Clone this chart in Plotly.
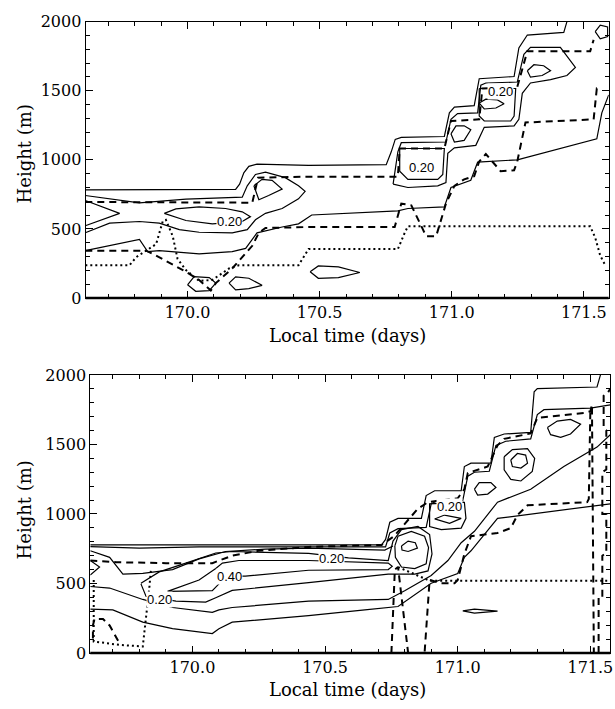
import plotly.graph_objects as go

# ---------------- top panel : solid contours (time in days, height in m) ----------------
top_outer_t = [169.613, 170.182, 170.197, 170.213, 170.232, 170.263, 170.458, 170.752, 170.771, 170.786, 170.809, 170.972, 170.991, 171.010, 171.085, 171.104, 171.236, 171.254, 171.286, 171.424, 171.436]
top_outer_h = [782, 786, 824, 906, 953, 969, 960, 965, 1058, 1148, 1162, 1169, 1340, 1382, 1392, 1587, 1603, 1810, 1903, 1922, 2000]

top_tongue_t = [169.613, 169.818, 169.994, 170.207, 170.226, 170.257, 170.295, 170.370, 170.420, 170.445, 170.420, 170.358, 170.295, 170.257, 170.226, 170.169, 170.044, 169.969, 169.893, 169.818, 169.705, 169.613]
top_tongue_h = [742, 688, 716, 730, 812, 894, 911, 871, 812, 772, 718, 648, 613, 566, 495, 472, 476, 495, 542, 554, 542, 472]

top_core_t = [169.912, 169.956, 170.044, 170.144, 170.207, 170.238, 170.207, 170.094, 169.994, 169.912]
top_core_h = [613, 645, 660, 648, 624, 589, 554, 537, 561, 613]

top_wedge_t = [169.613, 169.743, 169.613]
top_wedge_h = [706, 613, 523]

top_lower_t = [169.613, 169.705, 169.818, 169.849, 169.893, 170.044, 170.169, 170.220, 170.263, 170.358, 170.420, 170.470, 170.796, 170.834, 170.972, 170.997, 171.072, 171.098, 171.248, 171.549, 171.568, 171.594]
top_lower_h = [343, 378, 425, 336, 343, 319, 336, 359, 472, 514, 537, 601, 631, 648, 660, 800, 852, 983, 1000, 1152, 1340, 1470]

top_stair_t = [170.778, 170.796, 170.809, 170.978, 170.997, 171.022, 171.098, 171.110, 171.129, 171.248, 171.273, 171.298, 171.411, 171.468, 171.436, 171.374, 171.298, 171.267, 171.254, 171.236, 171.123, 171.091, 171.010, 170.985, 170.978, 170.947, 170.834, 170.778]
top_stair_h = [824, 1058, 1124, 1129, 1293, 1335, 1340, 1540, 1556, 1563, 1763, 1814, 1814, 1669, 1610, 1580, 1556, 1481, 1293, 1246, 1235, 1105, 1087, 1047, 836, 812, 800, 824]

top_box1_t = [170.803, 170.803, 170.834, 170.947, 170.966, 170.972, 170.803]
top_box1_h = [1082, 918, 859, 859, 894, 1082, 1082]
top_box2_t = [171.104, 171.104, 171.123, 171.223, 171.236, 171.242, 171.104]
top_box2_h = [1516, 1317, 1281, 1281, 1317, 1516, 1516]

top_loop1_t = [170.000, 170.025, 170.082, 170.107, 170.082, 170.031, 170.000]
top_loop1_h = [96, 155, 148, 108, 54, 49, 96]
top_loop2_t = [170.157, 170.182, 170.232, 170.282, 170.232, 170.182, 170.157]
top_loop2_h = [108, 153, 143, 92, 68, 59, 108]
top_loop3_t = [170.464, 170.495, 170.571, 170.652, 170.571, 170.495, 170.464]
top_loop3_h = [190, 232, 225, 185, 148, 143, 190]
top_loop4_t = [170.251, 170.282, 170.320, 170.358, 170.307, 170.270, 170.251]
top_loop4_h = [812, 859, 852, 789, 742, 711, 812]
top_loop5_t = [170.997, 171.016, 171.047, 171.072, 171.047, 171.010, 170.997]
top_loop5_h = [1188, 1246, 1246, 1218, 1141, 1129, 1188]
top_loop6_t = [171.104, 171.129, 171.173, 171.198, 171.167, 171.123, 171.104]
top_loop6_h = [1411, 1439, 1434, 1406, 1375, 1368, 1411]
top_loop7_t = [171.286, 171.311, 171.348, 171.374, 171.342, 171.298, 171.286]
top_loop7_h = [1645, 1688, 1681, 1645, 1610, 1598, 1645]
top_loop8_t = [171.543, 171.562, 171.590, 171.590, 171.562, 171.543]
top_loop8_h = [1927, 1974, 1962, 1892, 1875, 1927]

# top panel : dashed and dotted layer-height lines
top_dash_upper_t = [169.613, 170.245, 170.267, 170.458, 170.796, 170.803, 170.972, 170.997, 171.104, 171.116, 171.248, 171.286, 171.524, 171.537]
top_dash_upper_h = [695, 690, 871, 878, 878, 1082, 1082, 1281, 1293, 1516, 1528, 1786, 1786, 1868]
top_dash_lower_t = [169.613, 169.843, 169.881, 169.994, 170.044, 170.088, 170.107, 170.169, 170.245, 170.270, 170.295, 170.458, 170.784, 170.809, 170.847, 170.903, 170.941, 170.978, 171.010, 171.047, 171.085, 171.104, 171.129, 171.185, 171.236, 171.248, 171.279, 171.537, 171.549, 171.562]
top_dash_lower_h = [343, 343, 307, 190, 131, 54, 108, 214, 378, 472, 507, 514, 514, 683, 671, 448, 448, 683, 812, 859, 882, 988, 1042, 918, 925, 988, 1270, 1293, 1516, 1509]
top_dot_t = [169.613, 169.780, 169.806, 169.881, 169.906, 169.918, 169.944, 169.962, 169.994, 170.044, 170.094, 170.157, 170.194, 170.420, 170.458, 170.796, 170.822, 170.834, 171.524, 171.543, 171.562, 171.581]
top_dot_h = [237, 237, 296, 390, 554, 566, 448, 284, 202, 124, 131, 214, 237, 237, 354, 354, 472, 519, 519, 437, 307, 237]

top_label_t = [170.157, 170.884, 171.185]
top_label_h = [556, 941, 1493]
top_label_txt = ["0.20", "0.20", "0.20"]

# ---------------- bottom panel : solid contours ----------------
bot_outer_t = [169.615, 170.713, 170.728, 170.744, 170.775, 170.863, 170.881, 170.913, 171.013, 171.025, 171.050, 171.125, 171.138, 171.175, 171.275, 171.288, 171.300, 171.525, 171.538]
bot_outer_h = [777, 777, 817, 940, 968, 968, 1132, 1167, 1167, 1341, 1365, 1365, 1551, 1575, 1586, 1878, 1901, 1913, 2000]
bot_low_t = [169.615, 169.700, 169.813, 169.925, 170.075, 170.100, 170.150, 170.438, 170.650, 170.775, 170.900, 171.000, 171.025, 171.050, 171.150, 171.525, 171.575]
bot_low_h = [315, 310, 222, 175, 140, 175, 222, 268, 310, 334, 502, 572, 688, 735, 968, 1062, 1073]
bot_stair_t = [169.615, 169.800, 170.025, 170.438, 170.700, 170.728, 170.744, 170.775, 170.881, 170.900, 170.925, 171.019, 171.038, 171.063, 171.119, 171.144, 171.181, 171.275, 171.300, 171.325, 171.500, 171.575]
bot_stair_h = [765, 754, 763, 763, 758, 763, 863, 894, 903, 1073, 1097, 1097, 1272, 1300, 1307, 1493, 1523, 1540, 1715, 1750, 1761, 1785]
bot_dip_t = [169.615, 169.688, 169.738, 169.813, 169.925, 170.025, 170.125, 170.275, 170.438, 170.725, 170.756]
bot_dip_h = [735, 688, 567, 572, 600, 677, 730, 747, 754, 740, 770]
bot_mid_t = [169.615, 169.688, 169.813, 169.925, 170.075, 170.100, 170.150, 170.438, 170.738, 170.800, 170.900, 170.963, 171.013, 171.063, 171.150, 171.275, 171.400, 171.525, 171.575]
bot_mid_h = [478, 467, 385, 327, 292, 310, 327, 373, 385, 448, 558, 665, 793, 875, 1085, 1178, 1341, 1481, 1570]
bot_c20_t = [169.806, 169.875, 169.975, 170.050, 170.088, 170.150, 170.438, 170.588, 170.738, 170.756, 170.788, 170.850, 170.894, 170.903, 170.888, 170.838, 170.775, 170.738, 170.438, 170.150, 170.088, 170.050, 169.938, 169.825, 169.806]
bot_c20_h = [502, 583, 646, 693, 719, 730, 716, 684, 665, 805, 887, 910, 852, 712, 590, 567, 567, 567, 506, 450, 397, 366, 373, 408, 497]
bot_c40_t = [169.906, 170.075, 170.100, 170.138, 170.200, 170.438, 170.738, 170.753, 170.738, 170.438, 170.175, 170.113, 170.088, 170.025, 169.906]
bot_c40_h = [443, 448, 497, 553, 553, 595, 600, 623, 646, 665, 665, 646, 607, 525, 443]
bot_wedge_t = [169.615, 169.650, 169.615]
bot_wedge_h = [665, 618, 560]
bot_loopA_t = [170.763, 170.775, 170.825, 170.875, 170.890, 170.881, 170.838, 170.788, 170.765, 170.763]
bot_loopA_h = [770, 840, 875, 840, 758, 642, 607, 618, 688, 770]
bot_loopAi_t = [170.788, 170.813, 170.840, 170.848, 170.813, 170.790, 170.788]
bot_loopAi_h = [770, 805, 793, 754, 730, 740, 770]
bot_loopB_t = [171.025, 171.031, 171.013, 170.938, 170.894, 170.894, 171.025]
bot_loopB_h = [1085, 968, 898, 887, 910, 1073, 1085]
bot_loopBi_t = [170.913, 170.950, 171.013, 170.969, 170.913]
bot_loopBi_h = [964, 992, 968, 933, 964]
bot_loopC_t = [171.063, 171.081, 171.125, 171.144, 171.113, 171.075, 171.063]
bot_loopC_h = [1178, 1225, 1225, 1190, 1143, 1136, 1178]
bot_loopD_t = [171.175, 171.206, 171.263, 171.290, 171.281, 171.238, 171.200, 171.175, 171.175]
bot_loopD_h = [1411, 1463, 1470, 1400, 1306, 1237, 1248, 1318, 1411]
bot_loopDi_t = [171.200, 171.225, 171.256, 171.263, 171.238, 171.206, 171.200]
bot_loopDi_h = [1388, 1435, 1423, 1365, 1330, 1341, 1388]
bot_loopE_t = [171.338, 171.375, 171.425, 171.463, 171.425, 171.388, 171.350, 171.338]
bot_loopE_h = [1621, 1668, 1680, 1645, 1575, 1551, 1570, 1621]
bot_sliver_t = [171.019, 171.063, 171.150, 171.063, 171.019]
bot_sliver_h = [303, 315, 301, 287, 303]

# bottom panel : dashed and dotted layer-height lines
bot_dash_top_t = [169.615, 169.713, 169.900, 170.075, 170.150, 170.250, 170.438, 170.713, 170.760, 170.800, 170.850, 170.888, 171.000, 171.025, 171.038, 171.113, 171.150, 171.175, 171.275, 171.300, 171.475, 171.500, 171.506]
bot_dash_top_h = [665, 653, 646, 646, 700, 735, 763, 777, 840, 930, 1038, 1085, 1113, 1178, 1295, 1341, 1493, 1540, 1579, 1691, 1726, 1738, 1785]
bot_dash_low_t = [170.750, 170.763, 170.775, 170.813, 170.875, 170.894, 170.938, 170.988, 171.000, 171.025, 171.050, 171.150, 171.200, 171.225, 171.263, 171.488, 171.494, 171.500, 171.506, 171.513]
bot_dash_low_h = [0, 600, 618, 0, 0, 525, 502, 502, 525, 712, 840, 863, 898, 992, 1062, 1085, 1108, 1761, 1761, 0]
bot_dash_edge_t = [171.531, 171.531, 171.545, 171.545, 171.560, 171.560, 171.545, 171.545, 171.560, 171.560, 171.550, 171.550, 171.565, 171.575]
bot_dash_edge_h = [0, 400, 400, 700, 720, 1000, 1000, 1300, 1320, 1600, 1620, 1850, 1870, 1900]
bot_dash_left_t = [169.625, 169.625, 169.631, 169.663, 169.688, 169.725]
bot_dash_left_h = [105, 198, 245, 245, 198, 70]
bot_dot_left_t = [169.628, 169.628, 169.650, 169.725, 169.813, 169.825, 169.838, 169.844]
bot_dot_left_h = [525, 82, 77, 58, 47, 245, 478, 607]
bot_dot_right_t = [170.775, 170.894, 171.513, 171.575]
bot_dot_right_h = [618, 520, 520, 520]

bot_label_t = [169.875, 170.525, 170.138, 170.969]
bot_label_h = [385, 677, 553, 1050]
bot_label_txt = ["0.20", "0.20", "0.40", "0.20"]

# ---------------- axes ----------------
x_top_range = [169.614, 171.594]
x_bot_range = [169.615, 171.575]
h_range = [0, 2000]
x_tickvals = [170.0, 170.5, 171.0, 171.5]
x_ticktext = ["170.0", "170.5", "171.0", "171.5"]
h_tickvals = [0, 500, 1000, 1500, 2000]
h_ticktext = ["0", "500", "1000", "1500", "2000"]

fig = go.Figure()

SOLID = dict(color="black", width=1.2)
DASH = dict(color="black", width=2, dash="7px,5px")
DOT = dict(color="black", width=2, dash="2px,3px")


def add(t, h, line, axis):
    fig.add_trace(go.Scatter(x=t, y=h, mode="lines", line=line, hoverinfo="skip",
                             showlegend=False, xaxis="x" + axis, yaxis="y" + axis))


top_solid = [(top_outer_t, top_outer_h), (top_tongue_t, top_tongue_h), (top_core_t, top_core_h),
             (top_wedge_t, top_wedge_h), (top_lower_t, top_lower_h), (top_stair_t, top_stair_h),
             (top_box1_t, top_box1_h), (top_box2_t, top_box2_h), (top_loop1_t, top_loop1_h),
             (top_loop2_t, top_loop2_h), (top_loop3_t, top_loop3_h), (top_loop4_t, top_loop4_h),
             (top_loop5_t, top_loop5_h), (top_loop6_t, top_loop6_h), (top_loop7_t, top_loop7_h),
             (top_loop8_t, top_loop8_h)]
for t, h in top_solid:
    add(t, h, SOLID, "")
add(top_dash_upper_t, top_dash_upper_h, DASH, "")
add(top_dash_lower_t, top_dash_lower_h, DASH, "")
add(top_dot_t, top_dot_h, DOT, "")

bot_solid = [(bot_outer_t, bot_outer_h), (bot_low_t, bot_low_h), (bot_stair_t, bot_stair_h),
             (bot_dip_t, bot_dip_h), (bot_mid_t, bot_mid_h), (bot_c20_t, bot_c20_h),
             (bot_c40_t, bot_c40_h), (bot_wedge_t, bot_wedge_h), (bot_loopA_t, bot_loopA_h),
             (bot_loopAi_t, bot_loopAi_h), (bot_loopB_t, bot_loopB_h), (bot_loopBi_t, bot_loopBi_h),
             (bot_loopC_t, bot_loopC_h), (bot_loopD_t, bot_loopD_h), (bot_loopDi_t, bot_loopDi_h),
             (bot_loopE_t, bot_loopE_h), (bot_sliver_t, bot_sliver_h)]
for t, h in bot_solid:
    add(t, h, SOLID, "2")
add(bot_dash_top_t, bot_dash_top_h, DASH, "2")
add(bot_dash_low_t, bot_dash_low_h, DASH, "2")
add(bot_dash_edge_t, bot_dash_edge_h, DASH, "2")
add(bot_dash_left_t, bot_dash_left_h, DASH, "2")
add(bot_dot_left_t, bot_dot_left_h, DOT, "2")
add(bot_dot_right_t, bot_dot_right_h, DOT, "2")

# contour value labels
LABEL_FONT = dict(family="Liberation Sans", size=13, color="black")
for t, h, s in zip(top_label_t, top_label_h, top_label_txt):
    fig.add_annotation(x=t, y=h, xref="x", yref="y", text=s, showarrow=False,
                       font=LABEL_FONT, bgcolor="white", borderpad=0)
for t, h, s in zip(bot_label_t, bot_label_h, bot_label_txt):
    fig.add_annotation(x=t, y=h, xref="x2", yref="y2", text=s, showarrow=False,
                       font=LABEL_FONT, bgcolor="white", borderpad=0)

TICK_FONT = dict(family="DejaVu Serif", size=16, color="black")
TITLE_FONT = dict(family="DejaVu Serif", size=18, color="black")

xcommon = dict(tickvals=x_tickvals, ticktext=x_ticktext, ticks="inside", ticklen=7,
               tickwidth=1, tickcolor="black", mirror="ticks", showline=True,
               linecolor="black", linewidth=1, showgrid=False, zeroline=False,
               tickfont=TICK_FONT, ticklabeloverflow="allow",
               minor=dict(dtick=0.1, tick0=170.0, ticks="inside", ticklen=4, tickcolor="black"))
ycommon = dict(range=h_range, tickvals=h_tickvals, ticktext=h_ticktext, ticks="inside",
               ticklen=7, tickwidth=1, tickcolor="black", mirror="ticks", showline=True,
               linecolor="black", linewidth=1, showgrid=False, zeroline=False,
               tickfont=TICK_FONT, ticklabeloverflow="allow",
               minor=dict(dtick=100, tick0=0, ticks="inside", ticklen=4, tickcolor="black"))

fig.update_layout(
    width=615, height=709,
    margin=dict(l=0, r=0, t=0, b=0),
    paper_bgcolor="white", plot_bgcolor="white",
    xaxis=dict(domain=[0.1398, 0.9946], range=x_top_range, anchor="y", **xcommon),
    yaxis=dict(domain=[0.5811, 0.9817], anchor="x", **ycommon),
    xaxis2=dict(domain=[0.1475, 0.9972], range=x_bot_range, anchor="y2", **xcommon),
    yaxis2=dict(domain=[0.0667, 0.4697], anchor="x2", **ycommon),
)

# heavier lower frame edges
for xa, ya in (("x", "y"), ("x2", "y2")):
    fig.add_shape(type="line", xref=xa + " domain", yref=ya + " domain", x0=0, x1=1, y0=0, y1=0,
                  line=dict(color="black", width=2.5))

# axis titles
for yc in (0.5275, 0.0135):
    fig.add_annotation(x=0.568, y=yc, xref="paper", yref="paper", text="Local time (days)",
                       showarrow=False, font=TITLE_FONT, xanchor="center", yanchor="middle")
for yc in (0.790, 0.274):
    fig.add_annotation(x=0.040, y=yc, xref="paper", yref="paper", text="Height (m)",
                       showarrow=False, font=TITLE_FONT, textangle=-90,
                       xanchor="center", yanchor="middle")

fig.write_html("out.html")
